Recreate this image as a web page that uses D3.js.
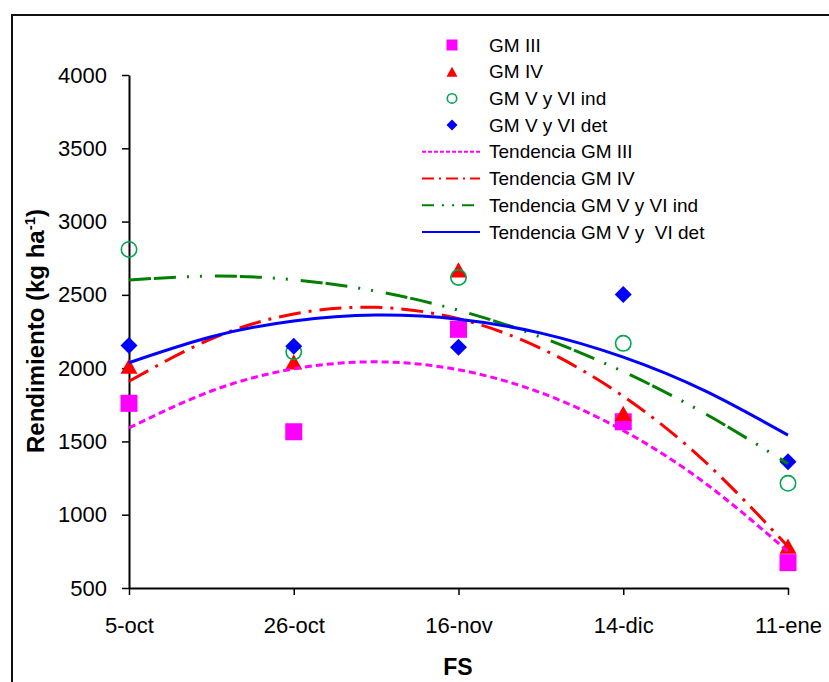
<!DOCTYPE html>
<html>
<head>
<meta charset="utf-8">
<script src="https://cdn.jsdelivr.net/npm/d3@7"></script>
<style>
  body { margin: 0; background: #fff; }
  svg { display: block; font-family: "Liberation Sans", Arial, sans-serif; }
</style>
</head>
<body>
<div id="chart"></div>
<script>
// fechas de siembra (categorias del eje x)
const categories = ['5-oct', '26-oct', '16-nov', '14-dic', '11-ene'];
const yTicks = [500, 1000, 1500, 2000, 2500, 3000, 3500, 4000];

// rendimiento observado por grupo de madurez
const gmIII = [1760, 1566, 2265, 1634, 673];
const gmIV = [2014, 2043, 2670, 1691, 786];
const gmVVIind = [2810, 2111, 2619, 2169, 1214];
const gmVVIdet = [2155, 2150, 2142, 2503, 1361];

// lineas de tendencia (leidas cada media categoria)
const trendPos = [0, 0.5, 1, 1.5, 2, 2.5, 3, 3.5, 4];
const trendIII = [1592, 1844, 1995, 2043, 1989, 1832, 1574, 1213, 749];
const trendIV = [1910, 2200, 2370, 2415, 2337, 2135, 1808, 1358, 783];
const trendInd = [2601, 2628, 2603, 2525, 2395, 2212, 1976, 1688, 1348];
const trendDet = [2037, 2214, 2322, 2362, 2334, 2239, 2075, 1843, 1543];

const width = 829, height = 682;

const svg = d3.select('#chart')
    .append('svg')
    .attr('width', width)
    .attr('height', height);

// marco del grafico
svg.append('rect')
    .attr('x', 12).attr('y', 15)
    .attr('width', 840).attr('height', 700)
    .attr('fill', 'none')
    .attr('stroke', '#111')
    .attr('stroke-width', 2);

const x = d3.scaleLinear().domain([0, categories.length - 1]).range([129, 788]);
const y = d3.scaleLinear().domain([500, 4000]).range([588, 75]);

// eje y
const yAxis = svg.append('g')
    .attr('transform', 'translate(129,0)')
    .call(d3.axisLeft(y).tickValues(yTicks).tickFormat(d3.format('d'))
        .tickSize(7).tickPadding(15).tickSizeOuter(0));
yAxis.select('.domain').attr('stroke', '#000').attr('stroke-width', 2);
yAxis.selectAll('.tick line').attr('stroke', '#000').attr('stroke-width', 1.5);
yAxis.selectAll('text').attr('font-size', 22).attr('fill', '#000')
    .attr('font-family', '"Liberation Sans", Arial, sans-serif');

// eje x
const xAxis = svg.append('g')
    .attr('transform', 'translate(0,588)')
    .call(d3.axisBottom(x).tickValues(d3.range(categories.length))
        .tickFormat(i => categories[i]).tickSize(7).tickPadding(22).tickSizeOuter(0));
xAxis.select('.domain').attr('stroke', '#000').attr('stroke-width', 2);
xAxis.selectAll('.tick line').attr('stroke', '#000').attr('stroke-width', 1.5);
xAxis.selectAll('text').attr('font-size', 22).attr('fill', '#000')
    .attr('font-family', '"Liberation Sans", Arial, sans-serif');

// titulos de ejes
const yTitle = svg.append('text')
    .attr('transform', 'translate(44,331) rotate(-90)')
    .attr('text-anchor', 'middle')
    .attr('font-size', 24)
    .attr('font-weight', 'bold');
yTitle.append('tspan').text('Rendimiento (kg ha');
yTitle.append('tspan').attr('font-size', 15).attr('dy', -9).text('-1');
yTitle.append('tspan').attr('dy', 9).text(')');

svg.append('text')
    .attr('x', 458).attr('y', 675)
    .attr('text-anchor', 'middle')
    .attr('font-size', 23)
    .attr('font-weight', 'bold')
    .text('FS');

// series de puntos
const series = [
    { name: 'GM III', values: gmIII, type: 'square' },
    { name: 'GM IV', values: gmIV, type: 'triangle' },
    { name: 'GM V y VI ind', values: gmVVIind, type: 'circle' },
    { name: 'GM V y VI det', values: gmVVIdet, type: 'diamond' }
];

const trends = [
    { name: 'Tendencia GM III', values: trendIII, color: '#ff00ff', dash: '7,4' },
    { name: 'Tendencia GM IV', values: trendIV, color: '#ff0000', dash: '22,8,3,8' },
    { name: 'Tendencia GM V y VI ind', values: trendInd, color: '#008000', dash: '22,3,22,11,2,11,2,13' },
    { name: 'Tendencia GM V y  VI det', values: trendDet, color: '#0000ff', dash: null }
];

function drawMarker(g, type, s) {
    if (type === 'square') {
        g.append('rect').attr('x', -s / 2).attr('y', -s / 2).attr('width', s).attr('height', s)
            .attr('fill', '#ff00ff');
    } else if (type === 'triangle') {
        const h = s * 0.9;
        g.append('path').attr('d', `M0,${-h / 2}L${s / 2},${h / 2}L${-s / 2},${h / 2}Z`)
            .attr('fill', '#ff0000');
    } else if (type === 'circle') {
        g.append('circle').attr('r', s / 2 - 0.8)
            .attr('fill', 'none').attr('stroke', '#00a650').attr('stroke-width', 1.6);
    } else {
        g.append('path').attr('d', `M0,${-s / 2}L${s / 2},0L0,${s / 2}L${-s / 2},0Z`)
            .attr('fill', '#0000ff');
    }
}

series.forEach(sr => {
    const g = svg.append('g');
    sr.values.forEach((v, i) => {
        const m = g.append('g').attr('transform', `translate(${x(i)},${y(v)})`);
        drawMarker(m, sr.type, 17);
    });
});

const line = d3.line()
    .x((d, i) => x(trendPos[i]))
    .y(d => y(d))
    .curve(d3.curveNatural);

trends.forEach(t => {
    svg.append('path')
        .datum(t.values)
        .attr('d', line)
        .attr('fill', 'none')
        .attr('stroke', t.color)
        .attr('stroke-width', 3)
        .attr('stroke-dasharray', t.dash);
});

// leyenda
const legend = svg.append('g');
const rowY = i => 45 + i * 26.7;

series.forEach((sr, i) => {
    const m = legend.append('g').attr('transform', `translate(452,${rowY(i)})`);
    drawMarker(m, sr.type, 11);
    legend.append('text')
        .attr('x', 489).attr('y', rowY(i))
        .attr('dy', '0.35em')
        .attr('font-size', 19)
        .text(sr.name);
});

trends.forEach((t, j) => {
    const i = j + series.length;
    legend.append('line')
        .attr('x1', 422).attr('x2', 480)
        .attr('y1', rowY(i)).attr('y2', rowY(i))
        .attr('stroke', t.color)
        .attr('stroke-width', 2)
        .attr('stroke-dasharray', t.dash ? (j === 0 ? '4,2' : j === 1 ? '12,5,2,5' : '12,8,2,8,2,8') : null);
    legend.append('text')
        .attr('x', 489).attr('y', rowY(i))
        .attr('dy', '0.35em')
        .attr('font-size', 19)
        .style('white-space', 'pre')
        .text(t.name);
});
</script>
</body>
</html>
